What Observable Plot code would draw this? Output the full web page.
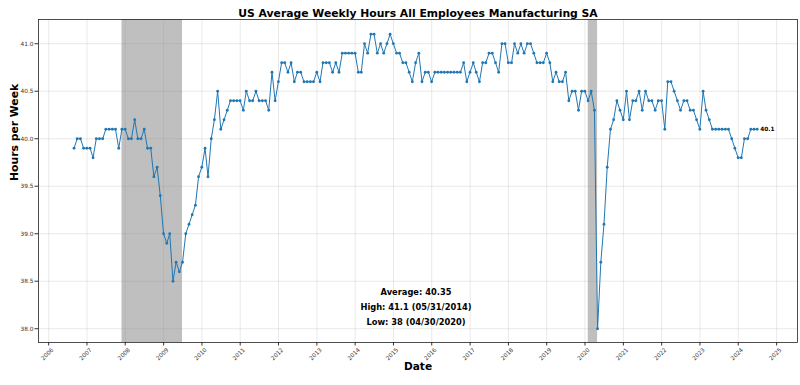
<!DOCTYPE html>
<html>
<head>
<meta charset="utf-8">
<script src="https://cdn.jsdelivr.net/npm/d3@7"></script>
<script src="https://cdn.jsdelivr.net/npm/@observablehq/plot@0.6"></script>
<style>
  html, body { margin: 0; padding: 0; background: #fff; }
  #chart svg { display: block; }
</style>
</head>
<body>
<div id="chart"></div>
<script>
// ---- Data ----
const titleText = "US Average Weekly Hours All Employees Manufacturing SA";
const yLabel = "Hours per Week";
const xLabel = "Date";
const firstMonth = "2006-08"; // monthly values, plotted at month end
const hours = [
  39.9, 40.0, 40.0, 39.9, 39.9, 39.9, 39.8, 40.0, 40.0, 40.0,
  40.1, 40.1, 40.1, 40.1, 39.9, 40.1, 40.1, 40.0, 40.0, 40.2,
  40.0, 40.0, 40.1, 39.9, 39.9, 39.6, 39.7, 39.4, 39.0, 38.9,
  39.0, 38.5, 38.7, 38.6, 38.7, 39.0, 39.1, 39.2, 39.3, 39.6,
  39.7, 39.9, 39.6, 40.0, 40.2, 40.5, 40.1, 40.2, 40.3, 40.4,
  40.4, 40.4, 40.4, 40.3, 40.5, 40.4, 40.4, 40.5, 40.4, 40.4,
  40.4, 40.3, 40.7, 40.4, 40.6, 40.8, 40.8, 40.7, 40.8, 40.6,
  40.7, 40.7, 40.6, 40.6, 40.6, 40.6, 40.7, 40.6, 40.8, 40.8,
  40.8, 40.7, 40.8, 40.7, 40.9, 40.9, 40.9, 40.9, 40.9, 40.7,
  40.7, 41.0, 40.9, 41.1, 41.1, 40.9, 41.0, 40.9, 41.0, 41.1,
  41.0, 40.9, 40.9, 40.8, 40.8, 40.7, 40.6, 40.8, 40.9, 40.6,
  40.7, 40.7, 40.6, 40.7, 40.7, 40.7, 40.7, 40.7, 40.7, 40.7,
  40.7, 40.7, 40.8, 40.6, 40.7, 40.8, 40.7, 40.6, 40.8, 40.8,
  40.9, 40.9, 40.8, 40.7, 41.0, 41.0, 40.8, 40.8, 41.0, 40.9,
  41.0, 40.9, 41.0, 41.0, 40.9, 40.8, 40.8, 40.8, 40.9, 40.8,
  40.6, 40.7, 40.6, 40.6, 40.7, 40.4, 40.5, 40.5, 40.3, 40.5,
  40.5, 40.4, 40.5, 40.3, 38.0, 38.7, 39.1, 39.7, 40.1, 40.2,
  40.4, 40.3, 40.2, 40.5, 40.2, 40.4, 40.4, 40.5, 40.3, 40.5,
  40.4, 40.4, 40.3, 40.4, 40.4, 40.1, 40.6, 40.6, 40.5, 40.4,
  40.3, 40.4, 40.4, 40.3, 40.3, 40.2, 40.1, 40.5, 40.3, 40.2,
  40.1, 40.1, 40.1, 40.1, 40.1, 40.1, 40.0, 39.9, 39.8, 39.8,
  40.0, 40.0, 40.1, 40.1, 40.1
];
const recessionStarts = ["2007-12-01", "2020-02-01"];
const recessionEnds   = ["2009-06-30", "2020-04-30"];
const yTickValues = [38.0, 38.5, 39.0, 39.5, 40.0, 40.5, 41.0];
const xTickYears = [2006, 2007, 2008, 2009, 2010, 2011, 2012, 2013, 2014, 2015,
                    2016, 2017, 2018, 2019, 2020, 2021, 2022, 2023, 2024, 2025];
const statLines = ["Average: 40.35", "High: 41.1 (05/31/2014)", "Low: 38 (04/30/2020)"];
const xDomain = ["2005-09-26", "2025-07-19"];
const yDomain = [37.855, 41.255];

// ---- Build tables ----
const start = d3.utcParse("%Y-%m")(firstMonth);
const series = hours.map((v, i) => ({
  date: d3.utcDay.offset(d3.utcMonth.offset(start, i + 1), -1),
  value: v
}));
const recessions = recessionStarts.map((s, i) => ({start: new Date(s), end: new Date(recessionEnds[i])}));
const xTicks = xTickYears.map(y => new Date(Date.UTC(y, 0, 1)));
const last = series[series.length - 1];

const FONT = "DejaVu Sans";
const blue = "#1f77b4";
const statDy = [-48, -33, -18];

const chart = Plot.plot({
  width: 800,
  height: 385,
  marginLeft: 38,
  marginRight: 3,
  marginTop: 19,
  marginBottom: 43,
  style: {fontFamily: FONT, background: "#fff", overflow: "visible"},
  x: {type: "utc", domain: xDomain.map(d => new Date(d))},
  y: {domain: yDomain},
  marks: [
    Plot.gridX(xTicks, {stroke: "#b0b0b0", strokeOpacity: 0.35, strokeWidth: 0.8}),
    Plot.gridY(yTickValues, {stroke: "#b0b0b0", strokeOpacity: 0.35, strokeWidth: 0.8}),
    Plot.rect(recessions, {x1: "start", x2: "end", fill: "#808080", fillOpacity: 0.5}),
    Plot.line(series, {x: "date", y: "value", stroke: blue, strokeWidth: 1}),
    Plot.dot(series, {x: "date", y: "value", r: 1.4, fill: blue, stroke: "none"}),
    Plot.text([last], {x: "date", y: "value", text: d => String(d.value), dx: 3, textAnchor: "start",
      fontWeight: "bold", fontSize: 5.8, fill: "#000"}),
    Plot.axisY(yTickValues, {tickFormat: d => d.toFixed(1), fontSize: 5.8, tickSize: 3.5, tickPadding: 1.5,
      color: "#333", label: null}),
    Plot.axisX(xTicks, {tickFormat: () => "", tickSize: 3.5, color: "#333", label: null}),
    Plot.text(xTicks, {x: d => d, frameAnchor: "bottom", dy: 13, rotate: -45, textAnchor: "middle",
      text: d => d3.utcFormat("%Y")(d), fontSize: 5.8, fill: "#333"}),
    Plot.frame({stroke: "#222", strokeWidth: 0.8}),
    Plot.text([titleText], {frameAnchor: "top", dy: -10.5, fontWeight: "bold", fontSize: 10.8, fill: "#000"}),
    Plot.text([xLabel], {frameAnchor: "bottom", dy: 27, fontWeight: "bold", fontSize: 10.6, fill: "#000"}),
    Plot.text([yLabel], {frameAnchor: "left", dx: -24, rotate: -90, fontWeight: "bold", fontSize: 10.8, fill: "#000"}),
    ...statLines.map((s, i) => Plot.text([s], {frameAnchor: "bottom", dx: -2, dy: statDy[i], fontWeight: "bold",
      fontSize: 8.3, fill: "#000"}))
  ]
});
document.getElementById("chart").appendChild(chart);
</script>
</body>
</html>
